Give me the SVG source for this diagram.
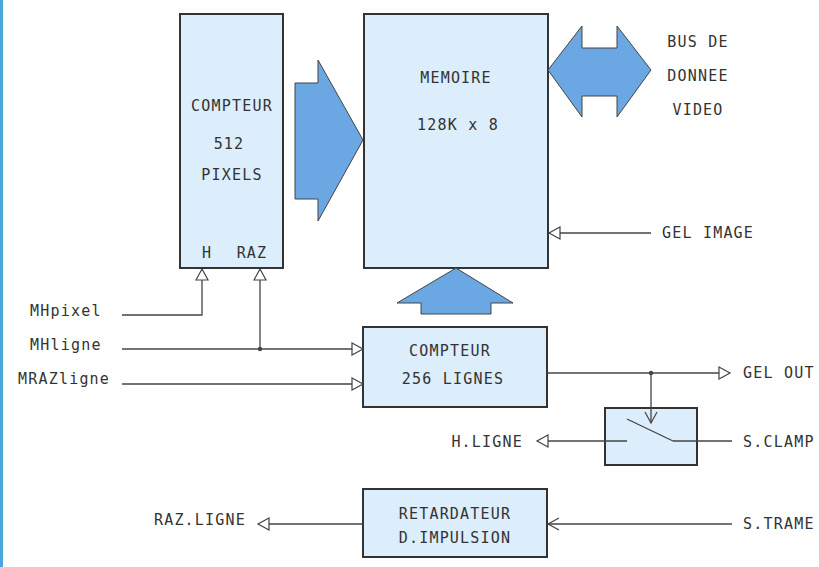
<svg xmlns="http://www.w3.org/2000/svg" width="819" height="567" viewBox="0 0 819 567">
<style>
.box{fill:#dcedfb;stroke:#333;stroke-width:2}
.big{fill:#6aa7e3;stroke:#444;stroke-width:1}
.ln{fill:none;stroke:#444;stroke-width:1.3}
.t{font-family:"DejaVu Sans Mono","Liberation Mono",monospace;font-size:15px;fill:#333;letter-spacing:1.2px}
.m{text-anchor:middle}
.e{text-anchor:end}
</style>
<defs>
<marker id="tri" markerUnits="userSpaceOnUse" markerWidth="14" markerHeight="14" refX="11" refY="6" orient="auto" viewBox="-1 -1 14 14">
<path d="M0,0 L11,6 L0,12 Z" fill="#fff" stroke="#444" stroke-width="1.2"/>
</marker>
<marker id="vee" markerUnits="userSpaceOnUse" markerWidth="14" markerHeight="14" refX="11" refY="6" orient="auto" viewBox="-1 -1 14 14">
<path d="M0,0 L11,6 L0,12" fill="none" stroke="#444" stroke-width="1.2"/>
</marker>
</defs>
<rect x="0" y="0" width="3" height="567" fill="#4aa6df"/>
<g id="compteur512">
<rect class="box" x="180" y="14" width="103" height="254"/>
<text class="t m" x="232" y="111">COMPTEUR</text>
<text class="t m" x="229" y="149">512</text>
<text class="t m" x="232" y="180">PIXELS</text>
<text class="t m" x="207" y="258">H</text>
<text class="t m" x="252" y="258">RAZ</text>
</g>
<g id="memoire">
<rect class="box" x="364" y="14" width="184" height="254"/>
<text class="t m" x="456" y="83">MEMOIRE</text>
<text class="t m" x="458" y="130">128K x 8</text>
</g>
<g id="compteur256">
<rect class="box" x="363" y="327" width="184" height="80"/>
<text class="t m" x="450" y="356">COMPTEUR</text>
<text class="t m" x="453" y="384">256 LIGNES</text>
</g>
<g id="switch">
<rect class="box" x="605" y="408" width="92" height="57"/>
<path class="ln" d="M627,419 L673,441"/>
</g>
<g id="retardateur">
<rect class="box" x="363" y="489" width="184" height="68"/>
<text class="t m" x="455" y="519">RETARDATEUR</text>
<text class="t m" x="455" y="543">D.IMPULSION</text>
</g>
<g id="buses">
<path class="big" d="M295,83 H318 V60 L363,140 L318,221 V199 H295 Z"/>
<path class="big" d="M548,70 L582,26 V48 H617 V26 L651,70 L617,117 V96 H582 V117 Z"/>
<path class="big" d="M456,268 L513,303 H491 V314 H421 V303 H397 Z"/>
</g>
<g id="labels">
<text class="t m" x="698" y="47">BUS DE</text>
<text class="t m" x="698" y="81">DONNEE</text>
<text class="t m" x="698" y="115">VIDEO</text>
<text class="t" x="662" y="238">GEL IMAGE</text>
<text class="t" x="30" y="316">MHpixel</text>
<text class="t" x="30" y="350">MHligne</text>
<text class="t" x="18" y="384">MRAZligne</text>
<text class="t" x="743" y="378">GEL OUT</text>
<text class="t e" x="523" y="447">H.LIGNE</text>
<text class="t" x="743" y="447">S.CLAMP</text>
<text class="t" x="743" y="529">S.TRAME</text>
<text class="t e" x="246" y="525">RAZ.LIGNE</text>
</g>
<g id="connectors">
<path class="ln" d="M122,315 H202 V269" marker-end="url(#tri)"/>
<path class="ln" d="M260,349 V269" marker-end="url(#tri)"/>
<path class="ln" d="M122,349 H363" marker-end="url(#tri)"/>
<path class="ln" d="M122,384 H363" marker-end="url(#tri)"/>
<circle cx="260" cy="349" r="2.2" fill="#444"/>
<path class="ln" d="M651,233 H549" marker-end="url(#tri)"/>
<path class="ln" d="M547,373 H730" marker-end="url(#tri)"/>
<circle cx="651" cy="373" r="2.2" fill="#444"/>
<path class="ln" d="M651,373 V423" marker-end="url(#vee)"/>
<path class="ln" d="M627,441 H537" marker-end="url(#tri)"/>
<path class="ln" d="M673,441 H732"/>
<path class="ln" d="M732,524 H548" marker-end="url(#vee)"/>
<path class="ln" d="M363,524 H258" marker-end="url(#tri)"/>
</g>
</svg>
